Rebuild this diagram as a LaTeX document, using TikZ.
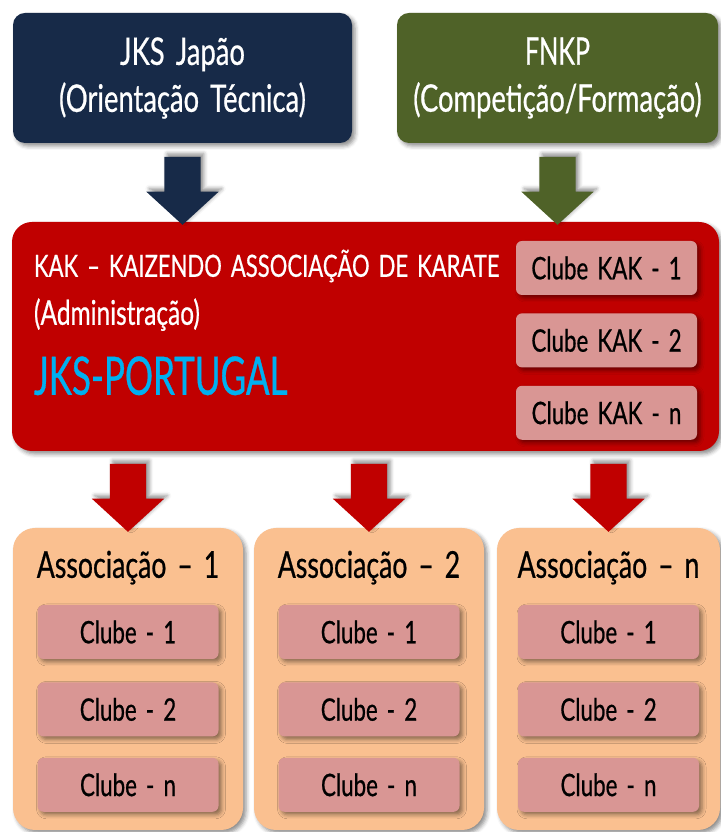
\documentclass[tikz,border=0pt]{standalone}
\usepackage{fontspec}
\setmainfont{Lato}[FakeStretch=0.72, WordSpace=1.6, FakeBold=0.6]
\newfontfamily\condensada{Lato}[FakeStretch=0.66, WordSpace=1.6, FakeBold=0.6]
\usetikzlibrary{calc,positioning,shapes.arrows,shadows.blur}
\definecolor{jksazul}{HTML}{172A48}
\definecolor{fnkpverde}{HTML}{4F6228}
\definecolor{kakvermelho}{HTML}{C00000}
\definecolor{jksciano}{HTML}{00B0F0}
\definecolor{assocpessego}{HTML}{FAC090}
\definecolor{clubero}{HTML}{D99694}
\tikzset{
	%Define standard shadow
	sombra/.style={blur shadow={shadow xshift=3pt, shadow yshift=-3pt,
		shadow blur radius=4pt, shadow opacity=45}},
	%Define style for boxes
	topo/.style={
		rectangle,
		rounded corners=12pt,
		sombra,
		text=white,
		align=center,
		inner sep=0pt,
		minimum height=130pt,
		font=\fontsize{38}{47}\selectfont},
	kakcaixa/.style={
		rectangle,
		rounded corners=20pt,
		fill=kakvermelho,
		sombra,
		minimum width=707pt,
		minimum height=229pt},
	rotulo/.style={text=white, inner sep=0pt, font=\fontsize{32}{38}\selectfont},
	assoc/.style={
		rectangle,
		rounded corners=22pt,
		fill=assocpessego,
		sombra,
		minimum width=230pt,
		minimum height=302pt},
	titulo/.style={inner sep=0pt, font=\fontsize{37}{44}\selectfont},
	clube/.style={
		rectangle,
		rounded corners=6pt,
		fill=clubero,
		sombra,
		inner sep=0pt,
		minimum width=181pt,
		minimum height=54pt,
		font=\fontsize{31}{38}\selectfont},
	% Define arrow style
	seta/.style={
		single arrow,
		rotate=-90,
		blur shadow={shadow xshift=3pt, shadow yshift=3pt,
			shadow blur radius=4pt, shadow opacity=45},
		inner xsep=0pt,
		inner ysep=18pt,
		minimum height=68pt,
		single arrow head extend=18pt,
		single arrow tip angle=95}
}
\begin{document}
\begin{tikzpicture}[x=1pt,y=1pt]
	\useasboundingbox (0,0) rectangle (720,832);
	% node JKS Japao
	\node[topo, fill=jksazul, minimum width=339pt] (jks) at (182.5,754) {JKS Japão\\(Orientação Técnica)};
	% node FNKP
	\node[topo, fill=fnkpverde, minimum width=321pt] (fnkp) at (557.5,754) {{\condensada FNKP}\\(Competição/Formação)};
	% node KAK
	\node[kakcaixa] (kak) at (365.5,495.5) {};
	\node[rotulo, anchor=base west, font=\fontsize{30.6}{38}\selectfont] (kaknome) at ($(kak.north west)+(22,-55)$) {KAK – KAIZENDO ASSOCIAÇÃO DE KARATE};
	\node[rotulo, anchor=base west, font=\fontsize{34}{40}\selectfont] (kakadm) at ($(kak.north west)+(22,-103)$) {(Administração)};
	\node[rotulo, anchor=base west, text=jksciano, font=\fontsize{53}{60}\selectfont] (jkspt) at ($(kak.north west)+(22,-173)$) {\condensada JKS-PORTUGAL};
	% clubes KAK
	\node[clube, below left=19pt and 22pt of kak.north east] (kakclube1) {Clube KAK - 1};
	\node[clube, below=18pt of kakclube1] (kakclube2) {Clube KAK - 2};
	\node[clube, below=18pt of kakclube2] (kakclube3) {Clube KAK - n};
	% setas de cima
	\node[seta, fill=jksazul] (setajks) at ($(jks.south)!0.5!(jks.south |- kak.north)$) {};
	\node[seta, fill=fnkpverde] (setafnkp) at ($(fnkp.south)!0.5!(fnkp.south |- kak.north)$) {};
	% node Associacao 1
	\node[assoc] (assoc1) at (128,153) {};
	\node[titulo, anchor=base] (titulo1) at ($(assoc1.north)+(0,-50)$) {Associação – 1};
	\node[clube, below=77pt of assoc1.north] (a1clube1) {Clube - 1};
	\node[clube, below=23pt of a1clube1] (a1clube2) {Clube - 2};
	\node[clube, below=21pt of a1clube2] (a1clube3) {Clube - n};
	% node Associacao 2
	\node[assoc] (assoc2) at (369,153) {};
	\node[titulo, anchor=base] (titulo2) at ($(assoc2.north)+(0,-50)$) {Associação – 2};
	\node[clube, below=77pt of assoc2.north] (a2clube1) {Clube - 1};
	\node[clube, below=23pt of a2clube1] (a2clube2) {Clube - 2};
	\node[clube, below=21pt of a2clube2] (a2clube3) {Clube - n};
	% node Associacao n
	\node[assoc, minimum width=223pt] (assoc3) at (608.5,153) {};
	\node[titulo, anchor=base] (titulo3) at ($(assoc3.north)+(0,-50)$) {Associação – n};
	\node[clube, below=77pt of assoc3.north] (a3clube1) {Clube - 1};
	\node[clube, below=23pt of a3clube1] (a3clube2) {Clube - 2};
	\node[clube, below=21pt of a3clube2] (a3clube3) {Clube - n};
	% setas de baixo
	\node[seta, fill=kakvermelho] (seta1) at ($(kak.south -| assoc1.north)!0.5!(assoc1.north)$) {};
	\node[seta, fill=kakvermelho] (seta2) at ($(kak.south -| assoc2.north)!0.5!(assoc2.north)$) {};
	\node[seta, fill=kakvermelho] (seta3) at ($(kak.south -| assoc3.north)!0.5!(assoc3.north)$) {};
\end{tikzpicture}
\end{document}
